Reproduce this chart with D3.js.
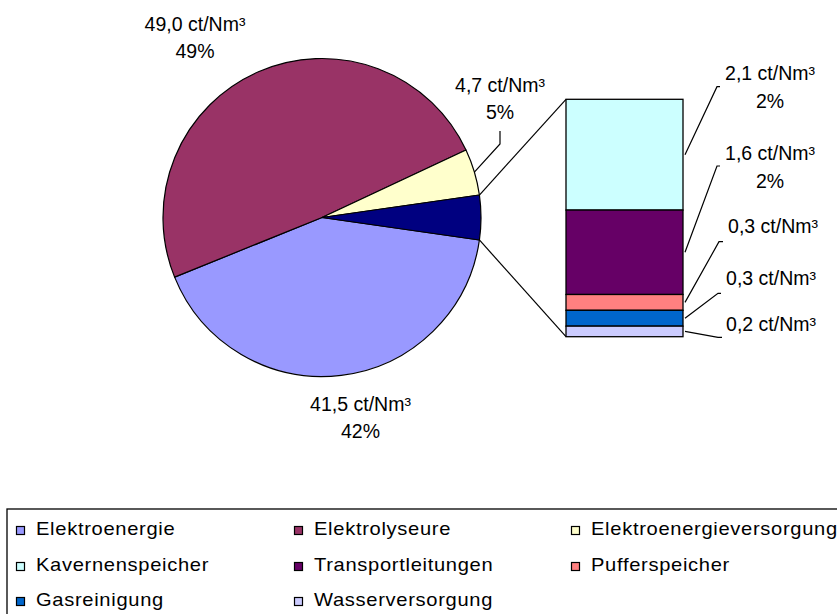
<!DOCTYPE html>
<html>
<head>
<meta charset="utf-8">
<script src="https://cdn.jsdelivr.net/npm/d3@7"></script>
<style>
  html, body { margin: 0; padding: 0; background: #ffffff; }
  svg { display: block; font-family: "Liberation Sans", Arial, sans-serif; }
</style>
</head>
<body>
<svg id="chart" width="837" height="614"></svg>
<script>
// ---- data ----
const pieCategories = ["Elektroenergie", "Elektrolyseure", "Elektroenergieversorgung"];
const pieValues = [41.5, 49.0, 4.7];
const pieColors = ["#9999FF", "#993366", "#FFFFCC"];
const otherColor = "#000080";

const barCategories = ["Kavernenspeicher", "Transportleitungen", "Pufferspeicher", "Gasreinigung", "Wasserversorgung"];
const barValues = [2.1, 1.6, 0.3, 0.3, 0.2];
const barColors = ["#CCFFFF", "#660066", "#FF8080", "#0066CC", "#CCCCFF"];

const unit = " ct/Nm³";

// ---- layout ----
const svg = d3.select("#chart");
const cx = 322, cy = 217.5, R = 159;
const bar = { x0: 566, x1: 683, top: 99.3, bottom: 336.7 };
const labelFont = 19.5;

const otherSum = d3.sum(barValues);
const total = d3.sum(pieValues) + otherSum;
const fmtVal = v => v.toFixed(1).replace(".", ",") + unit;
const fmtPct = v => Math.round(v / total * 100) + "%";

const pieData = pieValues.map((v, i) => ({ name: pieCategories[i], value: v, color: pieColors[i] }))
  .concat([{ name: "Sonstige", value: otherSum, color: otherColor }]);

const start = Math.PI / 2 + (otherSum / total) * Math.PI;
const pie = d3.pie().sort(null).value(d => d.value).startAngle(start).endAngle(start + 2 * Math.PI);
const arcs = pie(pieData);
const arc = d3.arc().innerRadius(0).outerRadius(R);

const g = svg.append("g").attr("transform", `translate(${cx},${cy})`);
g.selectAll("path").data(arcs).enter().append("path")
  .attr("d", arc)
  .attr("fill", d => d.data.color)
  .attr("stroke", "#000").attr("stroke-width", 1.2).attr("stroke-linejoin", "round");

// ---- bar of pie ----
const y = d3.scaleLinear().domain([0, otherSum]).range([bar.bottom, bar.top]);
let cum = 0;
const segs = [];
for (let i = barValues.length - 1; i >= 0; i--) {
  segs[i] = { name: barCategories[i], value: barValues[i], color: barColors[i], y0: cum, y1: cum + barValues[i] };
  cum += barValues[i];
}
svg.append("g").selectAll("rect").data(segs).enter().append("rect")
  .attr("x", bar.x0).attr("width", bar.x1 - bar.x0)
  .attr("y", d => y(d.y1)).attr("height", d => y(d.y0) - y(d.y1))
  .attr("fill", d => d.color)
  .attr("stroke", "#000").attr("stroke-width", 1.3);

// connector lines
const otherArc = arcs[arcs.length - 1];
const pt = a => [cx + R * Math.sin(a), cy - R * Math.cos(a)];
const pA = pt(otherArc.startAngle), pB = pt(otherArc.endAngle);
svg.append("line").attr("x1", pA[0]).attr("y1", pA[1]).attr("x2", bar.x0).attr("y2", y(otherSum))
  .attr("stroke", "#000").attr("stroke-width", 1.2);
svg.append("line").attr("x1", pB[0]).attr("y1", pB[1]).attr("x2", bar.x0).attr("y2", y(0))
  .attr("stroke", "#000").attr("stroke-width", 1.2);

// ---- labels ----
function label(x, yb, lines) {
  const t = svg.append("text").attr("text-anchor", "middle").attr("font-size", labelFont).attr("fill", "#000");
  lines.forEach((s, i) => t.append("tspan").attr("x", x).attr("y", yb + i * 27.5).text(s));
}
function leader(points) {
  svg.append("path").attr("d", d3.line()(points)).attr("fill", "none").attr("stroke", "#000").attr("stroke-width", 1.2);
}
const withPct = v => Math.round(v / total * 100) > 0 ? [fmtVal(v), fmtPct(v)] : [fmtVal(v)];

// pie labels
const pieLabelPos = [
  { x: 360.5, y: 410.5 },
  { x: 195, y: 30.5 },
  { x: 500, y: 91.7, leader: [[500, 144], [500, 131]] }
];
arcs.slice(0, 3).forEach((a, i) => {
  const p = pieLabelPos[i];
  label(p.x, p.y, withPct(a.data.value));
  if (p.leader) {
    const m = pt((a.startAngle + a.endAngle) / 2);
    leader([m].concat(p.leader));
  }
});

// bar labels
const barLabelPos = [
  { x: 770, y: 80, elbow: [[717, 86.7], [720, 86.7]] },
  { x: 770, y: 160, elbow: [[717, 166], [720, 166]] },
  { x: 773, y: 233.3, elbow: [[719, 241.7], [723, 241.7]] },
  { x: 771, y: 285, elbow: [[718, 293.3], [721, 293.3]] },
  { x: 771, y: 330.7, elbow: [[718, 337.3], [722, 337.3]] }
];
segs.forEach((s, i) => {
  const p = barLabelPos[i];
  label(p.x, p.y, withPct(s.value));
  const mid = (y(s.y0) + y(s.y1)) / 2;
  leader([[bar.x1 + 2, mid]].concat(p.elbow));
});

// ---- legend ----
const legendItems = pieCategories.map((n, i) => ({ name: n, color: pieColors[i] }))
  .concat(barCategories.map((n, i) => ({ name: n, color: barColors[i] })));
svg.append("rect").attr("x", 7).attr("y", 509).attr("width", 840).attr("height", 120)
  .attr("fill", "#fff").attr("stroke", "#000").attr("stroke-width", 1.3);
const colX = [16, 294, 571], rowY = [535, 571, 606];
const lg = svg.append("g").selectAll("g").data(legendItems).enter().append("g")
  .attr("transform", (d, i) => `translate(${colX[i % 3]},${rowY[Math.floor(i / 3)]})`);
lg.append("rect").attr("x", 0.5).attr("y", -8.5).attr("width", 8).attr("height", 8)
  .attr("fill", d => d.color).attr("stroke", "#000").attr("stroke-width", 1.2);
lg.append("text").attr("transform", "translate(20,0) scale(1.15,1)")
  .attr("font-size", 17.5).attr("letter-spacing", 0.6)
  .attr("fill", "#000").text(d => d.name);
</script>
</body>
</html>
